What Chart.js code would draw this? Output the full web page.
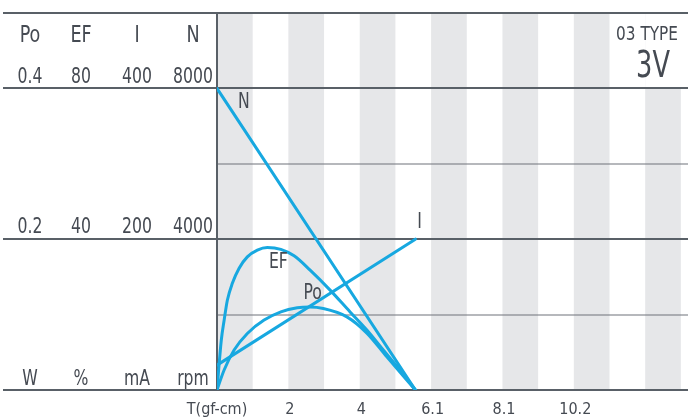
<!DOCTYPE html>
<html><head><meta charset="utf-8">
<script src="https://cdn.jsdelivr.net/npm/chart.js@4.4.0/dist/chart.umd.min.js"></script>
<style>html,body{margin:0;padding:0;background:#fff;overflow:hidden}canvas{display:block}</style>
</head><body>
<canvas id="c" width="688" height="418"></canvas>
<script>
// ---- data ----
const xTickValues = [0, 2, 4, 6, 8, 10];
const xTickLabels = ['T(gf-cm)', '2', '4', '6.1', '8.1', '10.2'];
const xMax = 13.2;

const axisNames = ['Po', 'EF', 'I', 'N'];
const axisUnits = ['W', '%', 'mA', 'rpm'];
const axisFull = [0.4, 80, 400, 8000];
const axisFullLabels = ['0.4', '80', '400', '8000'];
const axisHalfLabels = ['0.2', '40', '200', '4000'];

const torqueN = [0, 5.56];
const speedN = [8000, 0];
const torqueI = [0, 5.56];
const currentI = [33, 200];
const torqueEF = [0, 0.12, 0.20, 0.29, 0.43, 0.62, 0.85, 1.13, 1.41, 1.79, 2.16, 2.61, 3.17, 3.73, 4.20, 4.66, 5.13, 5.56];
const effEF = [0, 13.2, 18.5, 23.8, 28.3, 32.3, 35.3, 37.1, 37.8, 37.3, 35.6, 31.8, 26.5, 20.7, 15.9, 10.6, 5.3, 0];
const torquePo = [0, 0.20, 0.48, 0.85, 1.32, 1.79, 2.25, 2.60, 2.98, 3.64, 4.20, 4.76, 5.56];
const powerPo = [0, 0.0265, 0.053, 0.075, 0.0927, 0.1037, 0.109, 0.110, 0.108, 0.097, 0.0755, 0.044, 0];

const modelTitle = '03 TYPE';
const modelVoltage = '3V';

// ---- styling ----
const FONT = "'DejaVu Sans Condensed', 'DejaVu Sans', sans-serif";
const TEXT = '#454a52';
const LINE_DARK = '#596067';
const LINE_LIGHT = '#6e737a';
const STRIPE = '#e6e7e9';
const CURVE = '#17a8e0';

const pts = (xs, ys) => xs.map((x, i) => ({x, y: ys[i]}));
const series = [
  {label: 'N', data: pts(torqueN, speedN), yAxisID: 'yN', lab: [0.75, 7630]},
  {label: 'I', data: pts(torqueI, currentI), yAxisID: 'yI', lab: [5.68, 222]},
  {label: 'EF', data: pts(torqueEF, effEF), yAxisID: 'yEF', lab: [1.72, 33.7]},
  {label: 'Po', data: pts(torquePo, powerPo), yAxisID: 'yPo', lab: [2.68, 0.128]}
];

function narrowText(ctx, t, x, y, sx) {
  ctx.save();
  ctx.translate(x, y);
  ctx.scale(sx, 1);
  ctx.fillText(t, 0, 0);
  ctx.restore();
}

const decor = {
  id: 'decor',
  beforeDatasetsDraw(chart) {
    const {ctx, chartArea: a, scales} = chart;
    const x = scales.x, yN = scales.yN;
    ctx.save();
    // stripes
    ctx.fillStyle = STRIPE;
    for (let v = 0; v < xMax; v += 2) {
      const l = x.getPixelForValue(v), r = Math.min(x.getPixelForValue(v + 1), a.right);
      ctx.fillRect(l, a.top, r - l, a.bottom - a.top);
    }
    // model box
    const boxL = x.getPixelForValue(12);
    ctx.fillStyle = '#fff';
    ctx.fillRect(boxL, a.top, a.right - boxL, yN.getPixelForValue(8000) - a.top);
    // horizontal lines
    const levels = [0, 0.25, 0.5, 0.75, 1.0, 1.25];
    levels.forEach(f => {
      const y = Math.round(yN.getPixelForValue(f * 8000));
      const thick = (f === 0 || f === 0.5 || f === 1.0 || f === 1.25);
      ctx.strokeStyle = thick ? LINE_DARK : LINE_LIGHT;
      ctx.lineWidth = thick ? 2 : 1.2;
      ctx.beginPath();
      ctx.moveTo(thick ? 3 : a.left, y);
      ctx.lineTo(a.right, y);
      ctx.stroke();
    });
    // vertical axis line
    ctx.strokeStyle = LINE_DARK; ctx.lineWidth = 2;
    ctx.beginPath(); ctx.moveTo(a.left, a.top); ctx.lineTo(a.left, a.bottom); ctx.stroke();
    // left axis labels
    const colX = [30, 81, 137, 193];
    ctx.fillStyle = TEXT; ctx.textAlign = 'center'; ctx.textBaseline = 'alphabetic';
    const yFull = yN.getPixelForValue(8000), yHalf = yN.getPixelForValue(4000), yZero = yN.getPixelForValue(0);
    ctx.font = '23px ' + FONT;
    axisNames.forEach((t, i) => narrowText(ctx, t, colX[i], a.top + 29, 0.85));
    ctx.font = '20.5px ' + FONT;
    axisFullLabels.forEach((t, i) => narrowText(ctx, t, colX[i], yFull - 5, 0.85));
    axisHalfLabels.forEach((t, i) => narrowText(ctx, t, colX[i], yHalf - 6, 0.85));
    axisUnits.forEach((t, i) => narrowText(ctx, t, colX[i], yZero - 5, 0.85));
    // x tick labels
    ctx.font = '16px ' + FONT;
    xTickValues.forEach((v, i) => narrowText(ctx, xTickLabels[i], x.getPixelForValue(v) + (i ? 1.5 : 0), a.bottom + 24, 1));
    // model text
    ctx.font = '20px ' + FONT;
    narrowText(ctx, modelTitle, 647, 40, 0.85);
    ctx.font = '38px ' + FONT;
    narrowText(ctx, modelVoltage, 653, 77, 0.75);
    ctx.restore();
  },
  afterDatasetsDraw(chart) {
    const {ctx, scales} = chart;
    ctx.save();
    ctx.fillStyle = TEXT; ctx.textAlign = 'center'; ctx.textBaseline = 'middle';
    ctx.font = '20.5px ' + FONT;
    series.forEach(s => {
      narrowText(ctx, s.label, scales.x.getPixelForValue(s.lab[0]), scales[s.yAxisID].getPixelForValue(s.lab[1]), 0.85);
    });
    ctx.restore();
  }
};

const yAxis = (max) => ({type: 'linear', display: false, min: 0, max: max});

new Chart(document.getElementById('c'), {
  type: 'line',
  data: {
    datasets: series.map(s => ({
      label: s.label, data: s.data, yAxisID: s.yAxisID,
      borderColor: CURVE, borderWidth: 3, pointRadius: 0, fill: false,
      cubicInterpolationMode: 'monotone', borderCapStyle: 'round', borderJoinStyle: 'round'
    }))
  },
  options: {
    responsive: false, animation: false, devicePixelRatio: 1,
    layout: {padding: {left: 217, top: 13, right: 0, bottom: 28}},
    plugins: {legend: {display: false}, tooltip: {enabled: false}},
    scales: {
      x: {type: 'linear', display: false, min: 0, max: xMax},
      yN: yAxis(axisFull[3] * 1.25),
      yI: yAxis(axisFull[2] * 1.25),
      yEF: yAxis(axisFull[1] * 1.25),
      yPo: yAxis(axisFull[0] * 1.25)
    }
  },
  plugins: [decor]
});
</script>
</body></html>
